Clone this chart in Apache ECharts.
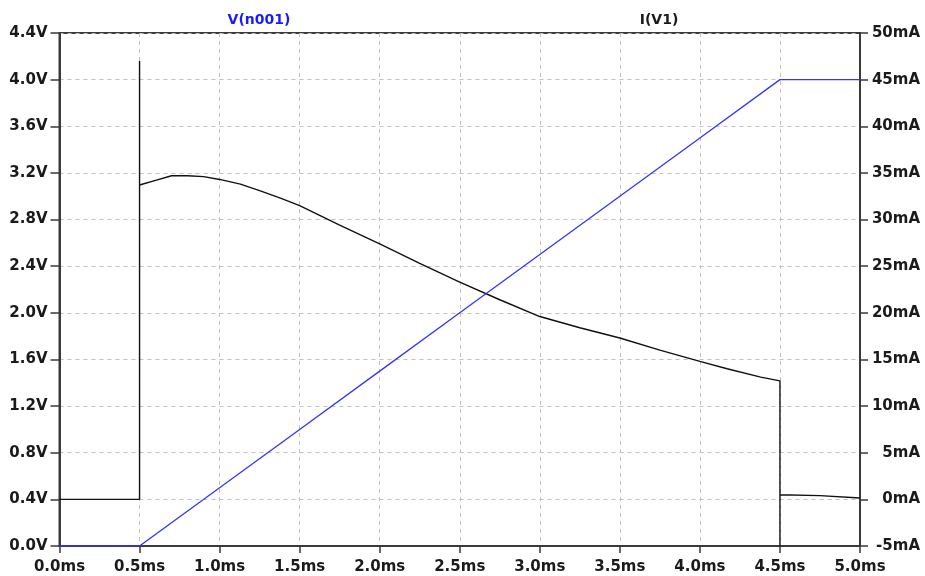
<!DOCTYPE html>
<html>
<head>
<meta charset="utf-8">
<script src="https://cdn.jsdelivr.net/npm/echarts@6/dist/echarts.min.js"></script>
<style>
  html, body { margin: 0; padding: 0; background: #fff; }
  #chart { width: 925px; height: 576px; }
</style>
</head>
<body>
<div id="chart"></div>
<script>
// V(n001) in volts, left axis
const vTime = [0, 0.5, 1.0, 1.5, 2.0, 2.5, 3.0, 3.5, 4.0, 4.5, 5.0]
const vValue = [0, 0, 0.5, 1.0, 1.5, 2.0, 2.5, 3.0, 3.5, 4.0, 4.0]

// I(V1) in mA, right axis
const iTime = [0, 0.5, 0.5, 0.5, 0.6, 0.7, 0.8, 0.9, 1.0, 1.13, 1.25, 1.38, 1.5, 1.75,
  2.0, 2.25, 2.5, 2.75, 3.0, 3.25, 3.5, 3.75, 4.0, 4.17, 4.38, 4.5, 4.5, 4.5, 4.75, 5.0]
const iValue = [0, 0, 47.0, 33.7, 34.2, 34.7, 34.7, 34.6, 34.3, 33.8, 33.1, 32.3, 31.5, 29.4,
  27.4, 25.3, 23.3, 21.4, 19.6, 18.4, 17.3, 16.0, 14.8, 14.0, 13.1, 12.7, -5, 0.5, 0.4, 0.15]

const seriesNames = ['V(n001)', 'I(V1)']

const font = 'DejaVu Sans'
const axisColor = '#3a3a3a'
const labelStyle = { color: '#1a1a1a', fontFamily: font, fontWeight: 'bold', fontSize: 15 }

const chart = echarts.init(document.getElementById('chart'))

chart.setOption({
  backgroundColor: '#fff',
  animation: false,
  grid: {
    left: 59.5, right: 65, top: 33, bottom: 30,
    show: true, borderColor: axisColor, borderWidth: 2, backgroundColor: 'transparent',
  },
  graphic: [
    {
      type: 'text', x: 259, y: 20,
      style: {
        text: seriesNames[0], fill: '#1a1aff', font: `bold 14px "${font}"`,
        align: 'center', verticalAlign: 'middle',
      },
    },
    {
      type: 'text', x: 659, y: 20,
      style: {
        text: seriesNames[1], fill: '#1a1a1a', font: `bold 14px "${font}"`,
        align: 'center', verticalAlign: 'middle',
      },
    },
  ],
  xAxis: {
    type: 'value', min: 0, max: 5, interval: 0.5,
    axisLine: { show: true, onZero: false, lineStyle: { color: axisColor, width: 2 } },
    axisTick: { show: true, length: 7, lineStyle: { color: axisColor, width: 1.5 } },
    axisLabel: { ...labelStyle, margin: 14, formatter: v => v.toFixed(1) + 'ms' },
    splitLine: { show: true, lineStyle: { color: '#c0c0c0', type: [4, 4], width: 1 } },
  },
  yAxis: [
    {
      type: 'value', min: 0, max: 4.4, interval: 0.4, position: 'left',
      axisLine: { show: true, onZero: false, lineStyle: { color: axisColor, width: 2 } },
      axisTick: { show: true, length: 9, lineStyle: { color: axisColor, width: 1.5 } },
      axisLabel: { ...labelStyle, margin: 12, formatter: v => v.toFixed(1) + 'V' },
      splitLine: { show: true, lineStyle: { color: '#c0c0c0', type: [4, 4], width: 1 } },
    },
    {
      type: 'value', min: -5, max: 50, interval: 5, position: 'right',
      axisLine: { show: true, onZero: false, lineStyle: { color: axisColor, width: 2 } },
      axisTick: { show: true, length: 8, lineStyle: { color: axisColor, width: 1.5 } },
      axisLabel: { ...labelStyle, margin: 60, align: 'right', formatter: v => v + 'mA' },
      splitLine: { show: false },
    },
  ],
  series: [
    {
      name: seriesNames[1], type: 'line', yAxisIndex: 1,
      data: iTime.map((t, k) => [t, iValue[k]]),
      symbol: 'none', smooth: false, clip: true,
      lineStyle: { color: '#111', width: 1.4 },
    },
    {
      name: seriesNames[0], type: 'line', yAxisIndex: 0,
      data: vTime.map((t, k) => [t, vValue[k]]),
      symbol: 'none', smooth: false, clip: true,
      lineStyle: { color: '#3434ff', width: 1.3 },
    },
  ],
})
</script>
</body>
</html>
